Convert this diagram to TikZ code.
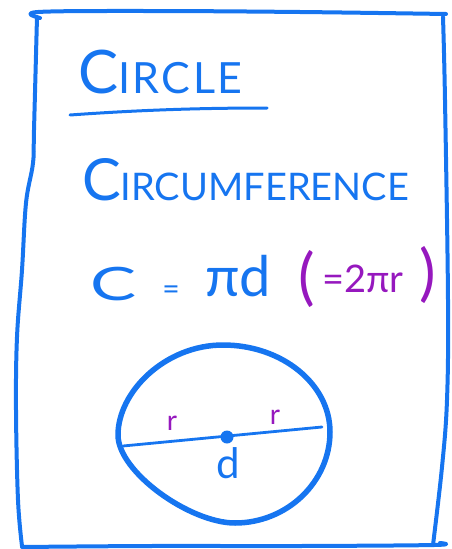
\documentclass[tikz,border=0pt]{standalone}
\usepackage{fontspec}
\setmainfont{Lato}
\usepackage{graphicx}
\definecolor{penblue}{RGB}{22,117,240}
\definecolor{penpurple}{RGB}{150,24,190}
\begin{document}
\begin{tikzpicture}[x=1pt,y=-1pt,
  ink/.style={draw=penblue,line cap=round,line join=round},
  txt/.style={inner sep=0pt,outer sep=0pt,text=penblue,anchor=base west},
  ptxt/.style={inner sep=0pt,outer sep=0pt,text=penpurple,anchor=base west}]
\useasboundingbox (0,0) rectangle (451,549);
% frame
\draw[ink,line width=4pt] plot[smooth,tension=0.6] coordinates
  {(40,18) (38,12) (150,11) (300,12) (446,14)};
\draw[ink,line width=4pt] plot[smooth,tension=0.6] coordinates
  {(37,17) (34,130) (33,163) (26,203) (22,270) (17,337) (16,410) (18,500) (22,546)};
\draw[ink,line width=4pt] plot[smooth,tension=0.6] coordinates
  {(443,17) (445,100) (448,300) (447,400) (442,467) (433,545)};
\draw[ink,line width=4pt] plot[smooth,tension=0.6] coordinates
  {(22,547) (150,546) (300,546) (434,545) (440,543)};
% title
\node[txt] (title) at (78,93) {{\fontsize{60}{60}\selectfont C}{\fontsize{43}{43}\selectfont\addfontfeatures{LetterSpace=6}IRCLE}};
\coordinate (ulA) at (70,115);
\coordinate (ulB) at (267,108);
\draw[ink,line width=3pt] (ulA) .. controls (140,110) and (200,108) .. (ulB);
% heading
\node[txt] (circum) at (82,200) {{\fontsize{58}{58}\selectfont C}{\fontsize{38}{38}\selectfont IRCUMFERENCE}};
% formula
\node[txt] (fC) at (90,300) {\fontsize{46}{46}\selectfont\scalebox{1.5}[1]{C}};
\node[inner sep=0pt,text=penblue,anchor=base] (feq) at (171,299) {\fontsize{30}{30}\selectfont =};
\node[txt] (fpid) at (205,296) {\fontsize{56}{56}\selectfont πd};
\node[ptxt] (lpar) at (298,298) {\fontsize{62}{62}\selectfont (};
\node[ptxt] (ptwo) at (322,292) {\fontsize{38}{38}\selectfont =2πr};
\node[ptxt] (rpar) at (419,294) {\fontsize{62}{62}\selectfont )};
% circle
\coordinate (cT) at (223,345);
\coordinate (cR) at (330,432);
\coordinate (cB) at (235,523);
\coordinate (cL) at (118,435);
\draw[ink,line width=5.5pt] (cT) .. controls (282,345) and (330,384) .. (cR)
  .. controls (330,482) and (287,523) .. (cB)
  .. controls (190,523) and (118,472) .. (cL)
  .. controls (118,392) and (165,345) .. (cT) -- cycle;
\coordinate (dl) at (123,446);
\coordinate (dr) at (322,427);
\draw[ink,line width=2.8pt] (dl) -- (dr);
\node[circle,fill=penblue,inner sep=0pt,minimum size=13pt] (ctr) at (227,437) {};
\node[inner sep=0pt,text=penpurple] (r1) at (172,423) {\fontsize{28}{28}\selectfont r};
\node[inner sep=0pt,text=penpurple] (r2) at (275,417) {\fontsize{28}{28}\selectfont r};
\node[inner sep=0pt,text=penblue] (dlab) at (228,463) {\fontsize{42}{42}\selectfont d};
\end{tikzpicture}
\end{document}
